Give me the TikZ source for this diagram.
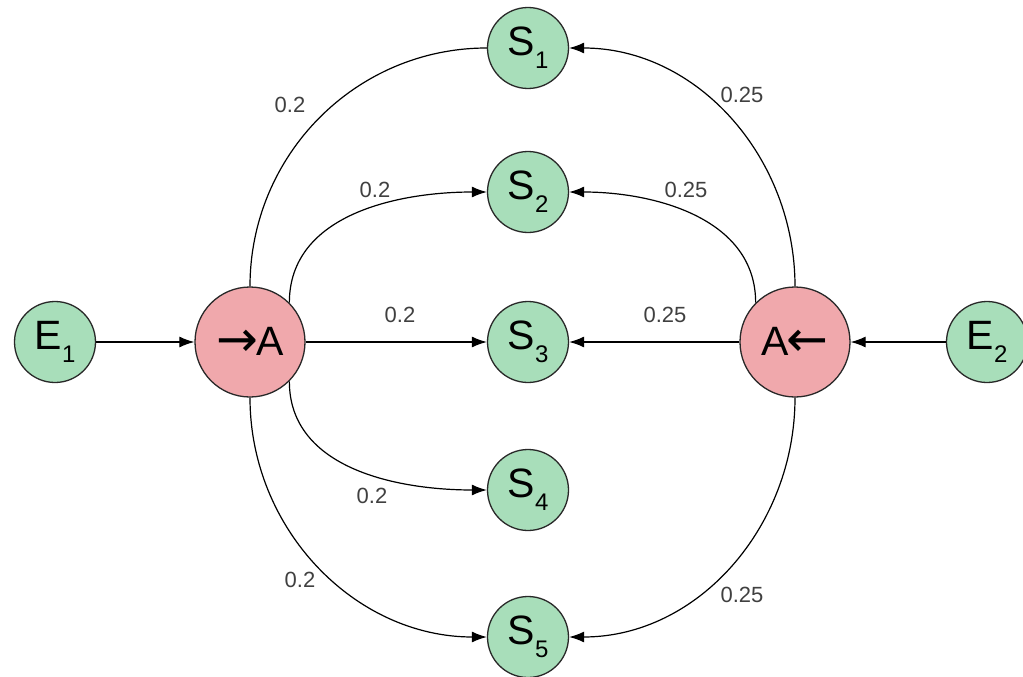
\documentclass[tikz,border=0pt]{standalone}
\usepackage{fontspec}
\setmainfont{Liberation Sans}
\newfontfamily\arrowfont{DejaVu Sans}
\usetikzlibrary{arrows.meta}
\definecolor{sgreen}{RGB}{168,222,186}
\definecolor{ared}{RGB}{240,168,172}
\definecolor{edgec}{RGB}{40,40,40}
\newcommand{\subidx}[1]{\raisebox{-0.32em}{\fontsize{24}{24}\selectfont #1}}
\newcommand{\rarr}{\raisebox{-1pt}{\arrowfont\fontsize{50}{50}\selectfont →}}
\newcommand{\larr}{\raisebox{-1pt}{\arrowfont\fontsize{50}{50}\selectfont ←}}
\begin{document}
\begin{tikzpicture}[x=1pt,y=-1pt,
  snode/.style={circle,draw=edgec,line width=1.3pt,fill=sgreen,minimum size=81pt,inner sep=0pt,font=\fontsize{41}{41}\selectfont},
  anode/.style={circle,draw=edgec,line width=1.3pt,fill=ared,minimum size=110pt,inner sep=0pt,font=\fontsize{41}{41}\selectfont},
  conn/.style={line width=1.2pt,draw=black},
  arr/.style={conn,-{Latex[length=15pt,width=11pt]}},
  lbl/.style={font=\fontsize{22}{22}\selectfont,text=black!75}]
\useasboundingbox (0,0) rectangle (1023,677);
\node[snode] (E1) at (55,342) {E\subidx{1}};
\node[snode] (E2) at (987,342) {E\subidx{2}};
\node[anode] (AL) at (250,342) {\rarr\kern-2pt A};
\node[anode] (AR) at (795,342) {A\kern-2pt\larr};
\node[snode] (S1) at (528,48) {S\subidx{1}};
\node[snode] (S2) at (528,192) {S\subidx{2}};
\node[snode] (S3) at (528,342) {S\subidx{3}};
\node[snode] (S4) at (528,490) {S\subidx{4}};
\node[snode] (S5) at (528,637) {S\subidx{5}};
\draw[arr] (E1) -- (AL);
\draw[arr] (E2) -- (AR);
\draw[arr] (AL) -- (S3);
\draw[arr] (AR) -- (S3);
\draw[conn] (AL.north) to[out=90,in=180] (S1.west);
\draw[arr] (AL.45) to[out=90,in=180] (S2.west);
\draw[arr] (AL.-45) to[out=-90,in=180] (S4.west);
\draw[arr] (AL.south) to[out=-90,in=180] (S5.west);
\draw[arr] (AR.north) to[out=90,in=0] (S1.east);
\draw[arr] (AR.135) to[out=90,in=0] (S2.east);
\draw[arr] (AR.south) to[out=-90,in=0] (S5.east);
\node[lbl] (l1) at (290,105) {0.2};
\node[lbl] (l2) at (375,190) {0.2};
\node[lbl] (l3) at (400,315) {0.2};
\node[lbl] (l4) at (372,496) {0.2};
\node[lbl] (l5) at (300,580) {0.2};
\node[lbl] (r1) at (742,95) {0.25};
\node[lbl] (r2) at (686,190) {0.25};
\node[lbl] (r3) at (665,315) {0.25};
\node[lbl] (r5) at (742,595) {0.25};
\end{tikzpicture}
\end{document}
